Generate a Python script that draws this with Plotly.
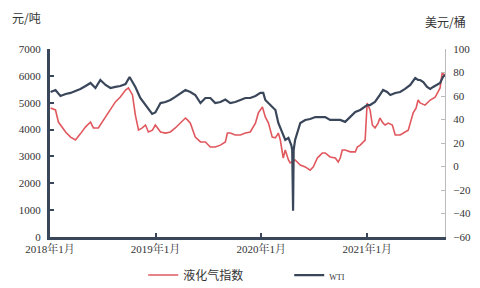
import plotly.graph_objects as go

# LPG index (left axis, 元/吨)
lpg_dates = [
    "2018-01-03", "2018-01-20", "2018-01-30", "2018-02-13", "2018-02-24", "2018-03-13",
    "2018-03-30", "2018-04-16", "2018-05-04", "2018-05-21", "2018-05-31", "2018-06-17",
    "2018-06-24", "2018-07-12", "2018-07-29", "2018-08-15", "2018-09-01", "2018-09-19",
    "2018-09-29", "2018-10-13", "2018-10-23", "2018-11-03", "2018-11-16", "2018-11-27",
    "2018-12-07", "2018-12-21", "2018-12-31", "2019-01-18", "2019-02-04", "2019-02-21",
    "2019-03-10", "2019-03-28", "2019-04-14", "2019-04-21", "2019-05-01", "2019-05-18",
    "2019-06-05", "2019-06-22", "2019-07-09", "2019-07-26", "2019-08-13", "2019-08-30",
    "2019-09-06", "2019-09-16", "2019-10-03", "2019-10-21", "2019-11-07", "2019-11-24",
    "2019-12-12", "2019-12-22", "2020-01-05", "2020-01-15", "2020-01-26", "2020-02-08",
    "2020-02-19", "2020-02-29", "2020-03-07", "2020-03-17", "2020-03-24", "2020-04-04",
    "2020-04-10", "2020-04-27", "2020-05-15", "2020-06-01", "2020-06-18", "2020-06-29",
    "2020-07-13", "2020-07-23", "2020-07-30", "2020-08-09", "2020-08-26", "2020-09-13",
    "2020-09-23", "2020-09-30", "2020-10-07", "2020-10-17", "2020-11-04", "2020-11-21",
    "2020-11-28", "2020-12-08", "2020-12-25", "2021-01-01", "2021-01-11", "2021-01-19",
    "2021-01-28", "2021-02-08", "2021-02-14", "2021-02-25", "2021-03-04", "2021-03-15",
    "2021-03-29", "2021-04-08", "2021-04-25", "2021-05-12", "2021-05-23", "2021-05-30",
    "2021-06-09", "2021-06-19", "2021-06-26", "2021-07-03", "2021-07-20", "2021-08-07",
    "2021-08-24", "2021-09-03", "2021-09-10", "2021-09-17", "2021-09-27",
]
lpg_values = [
    4800, 4730, 4280, 4060, 3910, 3720,
    3610, 3840, 4100, 4280, 4060, 4060,
    4170, 4470, 4730, 5030, 5210, 5470,
    5550, 5290, 4540, 3980, 4060, 4170,
    3910, 3980, 4170, 3910, 3870, 3910,
    4060, 4240, 4430, 4360, 4240, 3720,
    3540, 3540, 3350, 3350, 3420, 3540,
    3870, 3870, 3800, 3800, 3870, 3910,
    4240, 4620, 4840, 4470, 4240, 3720,
    3690, 3870, 3610, 2940, 3240, 2870,
    2760, 2870, 2680, 2610, 2490, 2610,
    2940, 3050, 3130, 3130, 2980, 2940,
    2790, 2940, 3240, 3240, 3170, 3170,
    3350, 3420, 3610, 4990, 4730, 4170,
    4060, 4240, 4430, 4240, 4170, 4240,
    4170, 3800, 3800, 3910, 3980, 4240,
    4620, 4800, 5100, 4990, 4910, 5100,
    5210, 5400, 5550, 6100, 6030,
]

# WTI (right axis, 美元/桶)
wti_dates = [
    "2018-01-03", "2018-01-20", "2018-02-06", "2018-02-24", "2018-03-13", "2018-03-30",
    "2018-04-16", "2018-05-04", "2018-05-21", "2018-06-07", "2018-06-24", "2018-07-12",
    "2018-07-29", "2018-08-15", "2018-09-01", "2018-09-19", "2018-10-03", "2018-10-13",
    "2018-10-23", "2018-11-09", "2018-11-27", "2018-12-20", "2018-12-31", "2019-01-18",
    "2019-02-04", "2019-02-21", "2019-03-10", "2019-03-28", "2019-04-14", "2019-05-01",
    "2019-05-18", "2019-06-05", "2019-06-22", "2019-07-09", "2019-07-26", "2019-08-13",
    "2019-08-30", "2019-09-16", "2019-10-03", "2019-10-21", "2019-11-07", "2019-11-24",
    "2019-12-12", "2019-12-29", "2020-01-08", "2020-01-15", "2020-02-01", "2020-02-19",
    "2020-02-29", "2020-03-14", "2020-03-24", "2020-04-04", "2020-04-14", "2020-04-17",
    "2020-04-20", "2020-04-22", "2020-04-27", "2020-05-15", "2020-06-01", "2020-06-18",
    "2020-07-06", "2020-07-23", "2020-08-09", "2020-08-26", "2020-09-13", "2020-09-30",
    "2020-10-17", "2020-11-04", "2020-11-21", "2020-12-08", "2020-12-25", "2021-01-01",
    "2021-01-11", "2021-01-28", "2021-02-14", "2021-02-25", "2021-03-11", "2021-03-22",
    "2021-04-08", "2021-04-25", "2021-05-12", "2021-05-30", "2021-06-16", "2021-06-26",
    "2021-07-03", "2021-07-14", "2021-07-27", "2021-08-07", "2021-08-17", "2021-08-31",
    "2021-09-10", "2021-09-20", "2021-09-27",
]
wti_values = [
    63.4, 65.1, 60.0, 61.7, 62.6, 64.3,
    66.0, 68.5, 71.1, 66.8, 73.6, 69.4,
    66.8, 67.7, 68.5, 70.2, 76.2, 71.9,
    67.7, 58.3, 52.3, 44.7, 46.0, 54.0,
    54.9, 56.6, 59.2, 62.6, 65.1, 63.4,
    60.9, 54.0, 58.3, 58.3, 54.0, 54.9,
    57.0, 54.0, 54.9, 56.6, 58.3, 58.3,
    60.0, 62.6, 62.6, 56.6, 52.3, 48.1,
    37.0, 28.5, 22.6, 24.3, 18.0, 14.0,
    -37.6, 14.0, 22.6, 37.0, 39.6, 40.4,
    42.1, 42.1, 42.1, 39.6, 39.6, 39.6,
    38.0, 42.1, 46.4, 48.1, 50.6, 52.3,
    52.3, 54.9, 60.9, 65.1, 63.4, 60.9,
    62.6, 63.4, 66.0, 69.4, 75.3, 73.6,
    73.6, 71.9, 67.7, 66.0, 67.7, 69.4,
    71.1, 76.2, 77.9,
]

left_ticks = [0, 1000, 2000, 3000, 4000, 5000, 6000, 7000]
right_ticks = [-60, -40, -20, 0, 20, 40, 60, 80, 100]
x_tickvals = ["2018-01-01", "2019-01-01", "2020-01-01", "2021-01-01"]
x_ticktext = ["2018年1月", "2019年1月", "2020年1月", "2021年1月"]

RED = "#e0585d"
DARK = "#3a4659"
TEXT = "#333333"
NUMFONT = "'Liberation Serif', 'Noto Serif CJK SC', 'Noto Sans CJK SC', serif"
CJK = "'Noto Sans CJK SC', sans-serif"

fig = go.Figure()
fig.add_trace(go.Scatter(
    x=lpg_dates, y=lpg_values, name="液化气指数", mode="lines",
    line=dict(color=RED, width=1.6), yaxis="y",
))
fig.add_trace(go.Scatter(
    x=wti_dates, y=wti_values,
    name="<span style='font-size:8px;font-family:Liberation Serif'>WTI</span>",
    mode="lines", line=dict(color=DARK, width=2.2), yaxis="y2",
))

fig.update_layout(
    width=480, height=288,
    margin=dict(l=50, r=35, t=49, b=51, autoexpand=False),
    paper_bgcolor="white", plot_bgcolor="white",
    font=dict(family=NUMFONT, size=11, color=TEXT),
    showlegend=True,
    legend=dict(
        orientation="h", x=0.236, xanchor="left",
        yref="container", y=0.045, yanchor="middle",
        font=dict(family=CJK, size=12, color=TEXT),
        entrywidth=101, itemwidth=30, bgcolor="rgba(0,0,0,0)",
    ),
    xaxis=dict(
        type="date", range=["2018-01-01", "2021-09-27"],
        tickvals=x_tickvals, ticktext=x_ticktext,
        ticks="inside", ticklen=4, tickwidth=2, tickcolor=DARK,
        showline=True, linecolor=DARK, linewidth=3,
        showgrid=False, zeroline=False,
        tickfont=dict(family=NUMFONT, size=11, color=TEXT),
    ),
    yaxis=dict(
        range=[0, 7000], tickvals=left_ticks,
        ticks="inside", ticklen=4, tickwidth=2, tickcolor=DARK,
        showline=True, linecolor=DARK, linewidth=3,
        showgrid=False, zeroline=False,
        tickfont=dict(family=NUMFONT, size=11, color=TEXT),
        ticklabelstandoff=4,
    ),
    yaxis2=dict(
        range=[-60, 100], tickvals=right_ticks, overlaying="y", side="right",
        ticks="inside", ticklen=4, tickwidth=1, tickcolor="#bbbbbb",
        showline=True, linecolor="#bbbbbb", linewidth=1,
        showgrid=False, zeroline=False,
        tickfont=dict(family=NUMFONT, size=11, color=TEXT),
        ticklabelstandoff=5,
    ),
    annotations=[
        dict(text="元/吨", xref="paper", yref="paper", x=-0.101, y=1.17,
             xanchor="left", yanchor="middle", showarrow=False,
             font=dict(family=CJK, size=12, color=TEXT)),
        dict(text="美元/桶", xref="paper", yref="paper", x=1.058, y=1.144,
             xanchor="right", yanchor="middle", showarrow=False,
             font=dict(family=CJK, size=12, color=TEXT)),
    ],
)

fig.write_html("out.html")
